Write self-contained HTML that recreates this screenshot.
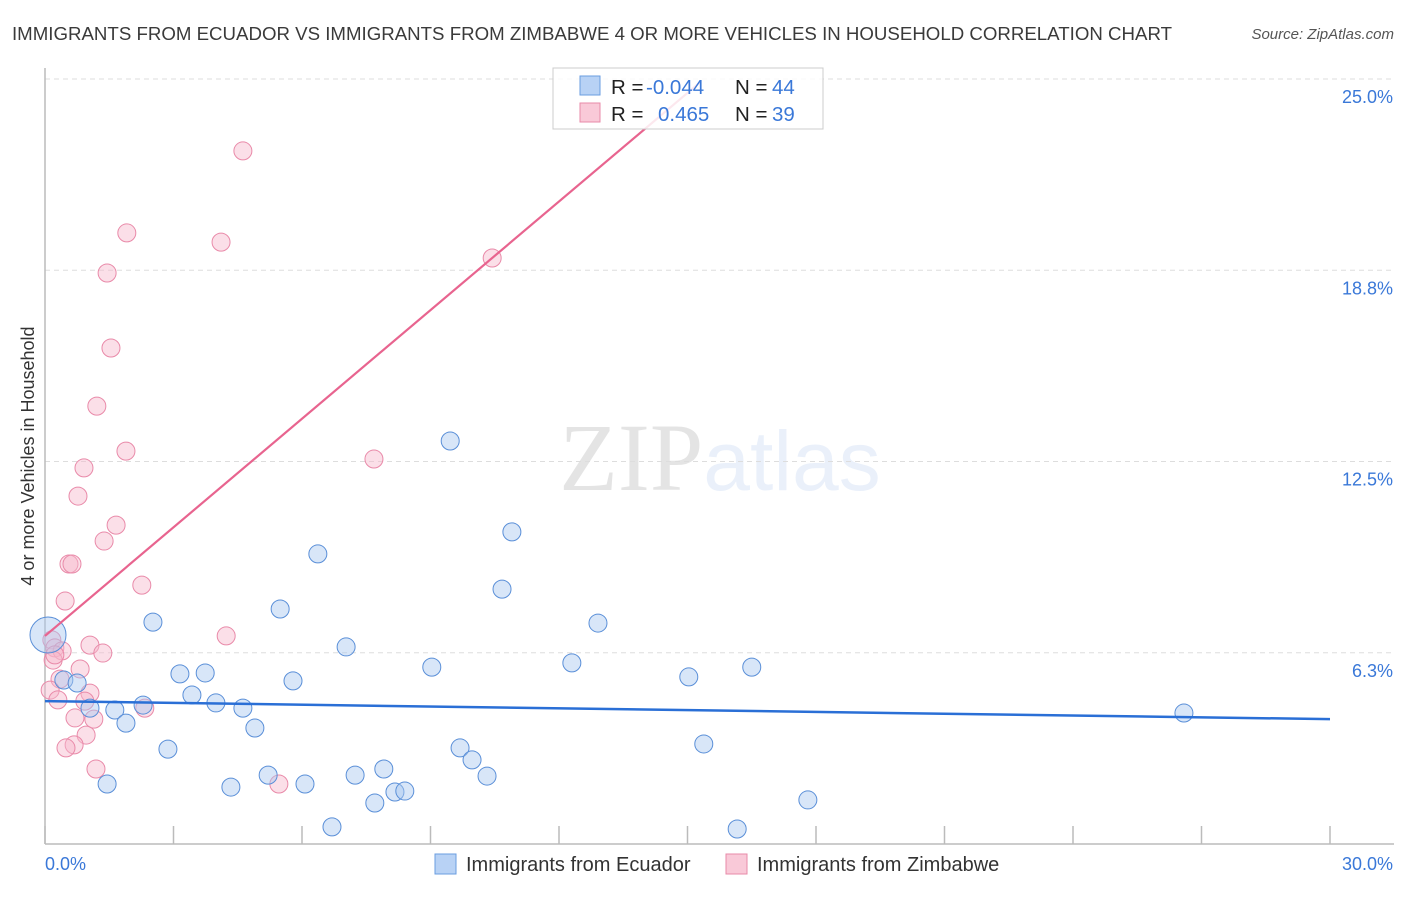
<!DOCTYPE html>
<html><head><meta charset="utf-8"><style>
body{margin:0;background:#fff;font-family:"Liberation Sans",sans-serif;}
svg text{font-family:"Liberation Sans",sans-serif;}
</style></head><body>
<svg id="chart" width="1406" height="892" xmlns="http://www.w3.org/2000/svg">
<text x="12" y="40" font-size="18" fill="#3a3a3a" textLength="1160" lengthAdjust="spacingAndGlyphs">IMMIGRANTS FROM ECUADOR VS IMMIGRANTS FROM ZIMBABWE 4 OR MORE VEHICLES IN HOUSEHOLD CORRELATION CHART</text>
<text x="1394" y="39" font-size="15" fill="#555" text-anchor="end" font-style="italic">Source: ZipAtlas.com</text>
<text x="720" y="490" font-size="96" text-anchor="middle" fill="#000" opacity="0.1"><tspan font-family="Liberation Serif">ZIP</tspan><tspan fill="#3a78d8" font-family="Liberation Sans" font-size="84">atlas</tspan></text>
<text transform="translate(34,456) rotate(-90)" font-size="18" fill="#333" text-anchor="middle">4 or more Vehicles in Household</text>
<g id="grid"></g>
<g id="axes"></g>
<g id="marks"></g>
<g id="lines"></g>
<g>
<rect x="553" y="68" width="270" height="61" fill="#fff" fill-opacity="0.85" stroke="#ccc"/>
<rect x="580" y="76" width="20" height="19" fill="#b8d2f5" stroke="#6a9de0"/>
<text x="611" y="94" font-size="20.5" fill="#222">R = <tspan x="646" fill="#3a78d8">-0.044</tspan><tspan x="735">N = </tspan><tspan x="772" fill="#3a78d8">44</tspan></text>
<rect x="580" y="103" width="20" height="19" fill="#f9c9d8" stroke="#e88aa8"/>
<text x="611" y="121" font-size="20.5" fill="#222">R = <tspan x="658" fill="#3a78d8">0.465</tspan><tspan x="735">N = </tspan><tspan x="772" fill="#3a78d8">39</tspan></text>
</g>
<g>
<rect x="435" y="854" width="21" height="20" fill="#b8d2f5" stroke="#6a9de0"/>
<text x="466" y="871" font-size="20" fill="#333">Immigrants from Ecuador</text>
<rect x="726" y="854" width="21" height="20" fill="#f9c9d8" stroke="#e88aa8"/>
<text x="757" y="871" font-size="20" fill="#333">Immigrants from Zimbabwe</text>
</g>
</svg>
<script>
const xTicks=[0,3,6,9,12,15,18,21,24,27,30];
const yTicks=[6.25,12.5,18.75,25];
const yTickLabels=["6.3%","12.5%","18.8%","25.0%"];
const ecuadorX=[0.07,0.44,0.75,1.05,1.63,1.89,2.29,1.45,2.52,2.87,3.15,3.43,3.74,3.99,4.34,4.62,4.90,5.21,5.49,5.79,6.07,6.37,6.70,7.03,7.24,7.70,7.91,8.17,8.40,9.03,9.46,9.69,9.97,10.32,10.67,10.90,12.30,12.91,15.03,15.38,16.16,16.50,17.81,26.59];
const ecuadorY=[6.83,5.36,5.26,4.44,4.38,3.95,4.54,1.96,7.25,3.10,5.56,4.87,5.59,4.61,1.86,4.44,3.79,2.25,7.68,5.33,1.96,9.48,0.56,6.44,2.25,1.34,2.45,1.70,1.73,5.78,13.17,3.14,2.75,2.22,8.33,10.20,5.92,7.22,5.46,3.27,0.49,5.78,1.44,4.28];
const zimX=[4.62,1.91,4.11,1.45,10.44,1.54,1.21,1.89,7.68,0.91,0.77,1.66,1.38,0.56,0.63,2.26,0.47,4.23,1.05,1.35,0.16,0.23,0.40,0.19,0.82,0.35,0.12,1.05,0.30,0.93,2.33,1.14,0.70,0.96,0.68,0.49,1.19,5.46,0.23];
const zimY=[22.65,19.97,19.67,18.66,19.15,16.21,14.31,12.84,12.58,12.29,11.37,10.42,9.90,9.15,9.15,8.46,7.94,6.80,6.50,6.24,6.67,6.41,6.31,6.01,5.72,5.39,5.03,4.93,4.71,4.67,4.44,4.08,4.12,3.56,3.24,3.14,2.45,1.96,6.18];
const ecuadorTrend=[4.67,4.08];
const zimTrend=[6.80,24.9];
const zimTrendEnd=15.3;

const X0=45,X1=1330,Y0=844,Y25=79;
const sx=v=>X0+(v/30)*(X1-X0);
const sy=v=>Y0-(v/25)*(Y0-Y25);
const NS="http://www.w3.org/2000/svg";
function mk(tag,attrs,parent){const e=document.createElementNS(NS,tag);for(const k in attrs)e.setAttribute(k,attrs[k]);document.getElementById(parent).appendChild(e);return e;}

yTicks.forEach((t,i)=>{
  const g=mk('line',{x1:X0,x2:1394,y1:sy(t),y2:sy(t),stroke:'#ddd','stroke-dasharray':'5,4'},'grid');
  
  
  const l=mk('text',{x:1393,y:sy(t)+24,'font-size':18,fill:'#3a78d8','text-anchor':'end'},'grid');
  l.textContent=yTickLabels[i];
  
  
});
const ya=mk('line',{x1:X0,x2:X0,y1:68,y2:Y0,stroke:'#bbb','stroke-width':1.5},'axes');


const xa=mk('line',{x1:X0,x2:1394,y1:Y0,y2:Y0,stroke:'#bbb','stroke-width':1.5},'axes');


xTicks.forEach(t=>{
  const tk=mk('line',{x1:sx(t),x2:sx(t),y1:826,y2:Y0,stroke:'#bbb','stroke-width':1.5},'axes');
  
  
});
const xl0=mk('text',{x:45,y:870,'font-size':18,fill:'#3a78d8'},'axes');xl0.textContent='0.0%';


const xl1=mk('text',{x:1393,y:870,'font-size':18,fill:'#3a78d8','text-anchor':'end'},'axes');xl1.textContent='30.0%';



zimX.forEach((v,i)=>{
  const c=mk('circle',{cx:sx(v),cy:sy(zimY[i]),r:9,fill:'#f6b8cc','fill-opacity':0.45,stroke:'#e98aa9','stroke-width':1},'marks');
  
  
});
ecuadorX.forEach((v,i)=>{
  const c=mk('circle',{cx:sx(v),cy:sy(ecuadorY[i]),r:i===0?18:9,fill:'#a9c8f0','fill-opacity':0.45,stroke:'#5a8fd8','stroke-width':1},'marks');
  
  
});
const bl=mk('line',{x1:sx(0),y1:sy(ecuadorTrend[0]),x2:sx(30),y2:sy(ecuadorTrend[1]),stroke:'#2a6fd6','stroke-width':2.5},'lines');


const pl=mk('line',{x1:sx(0),y1:sy(zimTrend[0]),x2:sx(zimTrendEnd),y2:sy(zimTrend[0]+(zimTrend[1]-zimTrend[0])*zimTrendEnd/15.3),stroke:'#e8648f','stroke-width':2.2},'lines');


</script>
</body></html>
